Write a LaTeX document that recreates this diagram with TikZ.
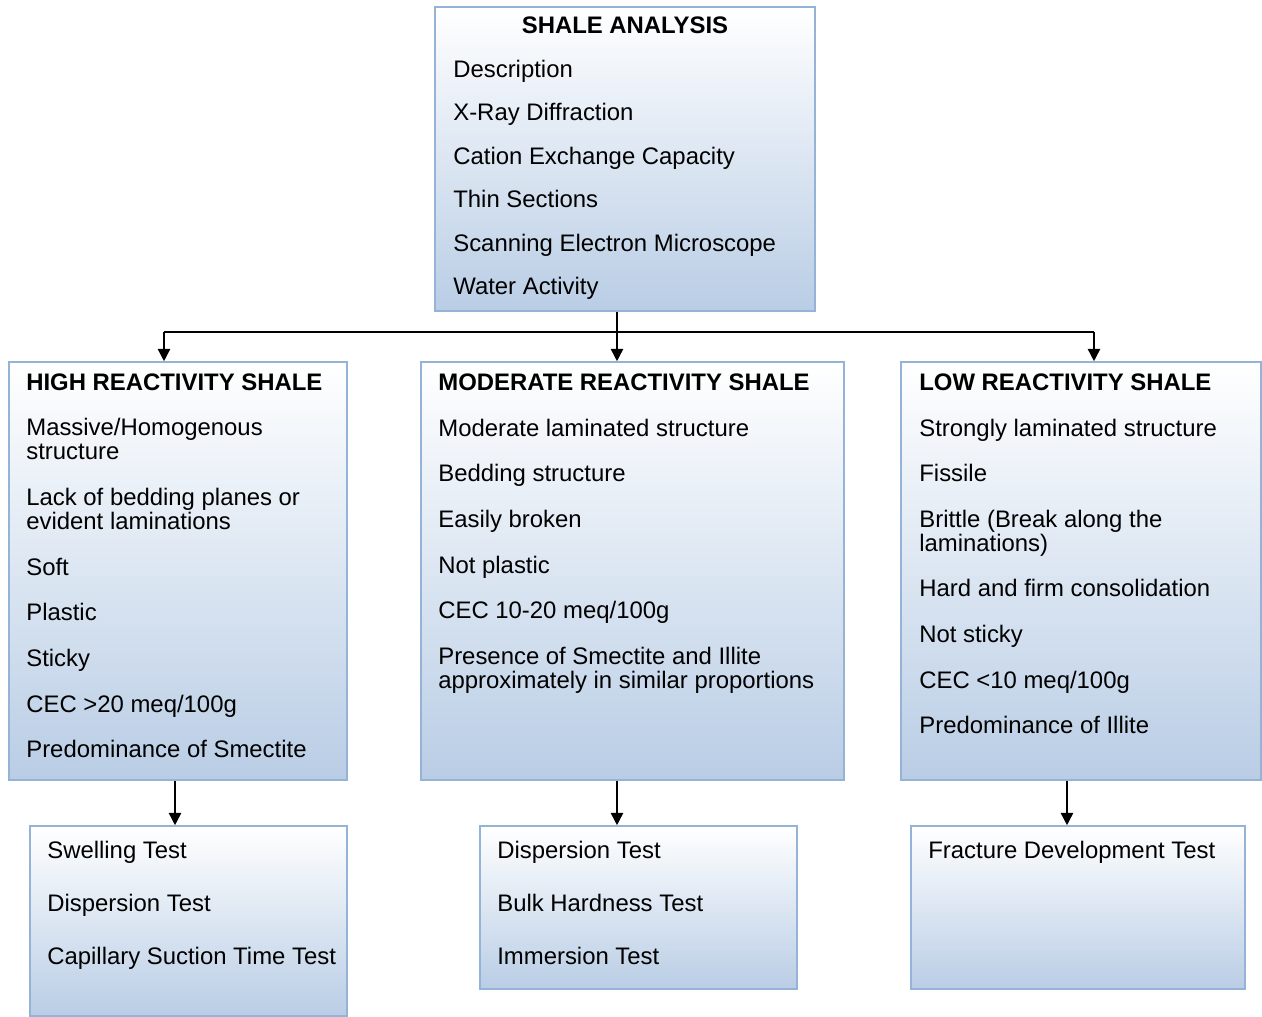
\documentclass[tikz,border=0pt]{standalone}
\usepackage{fontspec}
\setmainfont{Liberation Sans}
\usetikzlibrary{arrows.meta,fit}
\definecolor{panelblue}{HTML}{B9CDE5}
\definecolor{panelline}{HTML}{95B3D7}

\begin{document}
\begin{tikzpicture}[x=0.02cm,y=-0.02cm,>={Triangle[width=7pt,length=7pt]},
  panel/.style={draw=panelline,line width=0.9pt,top color=white,bottom color=panelblue,inner sep=0pt},
  item/.style={anchor=base west,inner sep=0pt,align=left,font=\fontsize{13.6}{13.7}\selectfont},
  twoline/.style={item,anchor=west},
  head/.style={item,font=\fontsize{13.6}{13.7}\selectfont\bfseries},
  link/.style={line width=0.9pt}]
    \useasboundingbox (0,0) rectangle (1262,1017);

    \node[panel,fit={(435,7) (815,311)}] (shale) {};
    \node[panel,fit={(9,362) (347,780)}] (high) {};
    \node[panel,fit={(421,362) (844,780)}] (mod) {};
    \node[panel,fit={(901,362) (1261,780)}] (low) {};
    \node[panel,fit={(30,826) (347,1016)}] (hightest) {};
    \node[panel,fit={(480,826) (797,989)}] (modtest) {};
    \node[panel,fit={(911,826) (1245,989)}] (lowtest) {};

    \node[head,anchor=base] (s0) at (625,33.6) {SHALE ANALYSIS};
    \foreach \t [count=\i] in {Description,X-Ray Diffraction,Cation Exchange Capacity,Thin Sections,Scanning Electron Microscope,Water Activity}
        \node[item] (s\i) at (453,33.6+43.5*\i) {\t};

    \node[head] (h0) at (26,390.6) {HIGH REACTIVITY SHALE};
    \node[twoline] (h1) at (26,439) {Massive/Homogenous\\structure};
    \node[twoline] (h2) at (26,509) {Lack of bedding planes or\\evident laminations};
    \foreach \t/\y [count=\i from 3] in {Soft/567,Plastic/612,Sticky/658,{CEC >20 meq/100g}/704,Predominance of Smectite/749}
        \node[item] (h\i) at (26,\y+8.6) {\t};

    \node[head] (m0) at (438,390.6) {MODERATE REACTIVITY SHALE};
    \foreach \t/\y [count=\i] in {Moderate laminated structure/428,Bedding structure/473,Easily broken/519,Not plastic/565,{CEC 10-20 meq/100g}/610}
        \node[item] (m\i) at (438,\y+8.6) {\t};
    \node[twoline] (m6) at (438,670) {Presence of Smectite and Illite\\approximately in similar proportions};

    \node[head] (l0) at (919,390.6) {LOW REACTIVITY SHALE};
    \foreach \t/\y [count=\i] in {Strongly laminated structure/428,Fissile/473}
        \node[item] (l\i) at (919,\y+8.6) {\t};
    \node[twoline] (l3) at (919,533) {Brittle (Break along the\\laminations)};
    \foreach \t/\y [count=\i from 4] in {Hard and firm consolidation/588,Not sticky/634,{CEC <10 meq/100g}/680,Predominance of Illite/725}
        \node[item] (l\i) at (919,\y+8.6) {\t};

    \foreach \t/\y [count=\i] in {Swelling Test/850,Dispersion Test/903,Capillary Suction Time Test/956}
        \node[item] (ht\i) at (47,\y+8.6) {\t};
    \foreach \t/\y [count=\i] in {Dispersion Test/850,Bulk Hardness Test/903,Immersion Test/956}
        \node[item] (mt\i) at (497,\y+8.6) {\t};
    \node[item] (lt1) at (928,858.6) {Fracture Development Test};

    \coordinate (split) at (617,332);
    \coordinate (left) at (164,332);
    \coordinate (right) at (1094,332);
    \coordinate (down1) at (175,0);
    \coordinate (down2) at (617,0);
    \coordinate (down3) at (1067,0);

    \draw[link] (shale.south -| split) -- (split);
    \draw[link] (left) -- (right);
    \draw[link,->] (left) -- (left |- high.north);
    \draw[link,->] (split) -- (split |- mod.north);
    \draw[link,->] (right) -- (right |- low.north);
    \draw[link,->] (high.south -| down1) -- (hightest.north -| down1);
    \draw[link,->] (mod.south -| down2) -- (modtest.north -| down2);
    \draw[link,->] (low.south -| down3) -- (lowtest.north -| down3);
\end{tikzpicture}
\end{document}
